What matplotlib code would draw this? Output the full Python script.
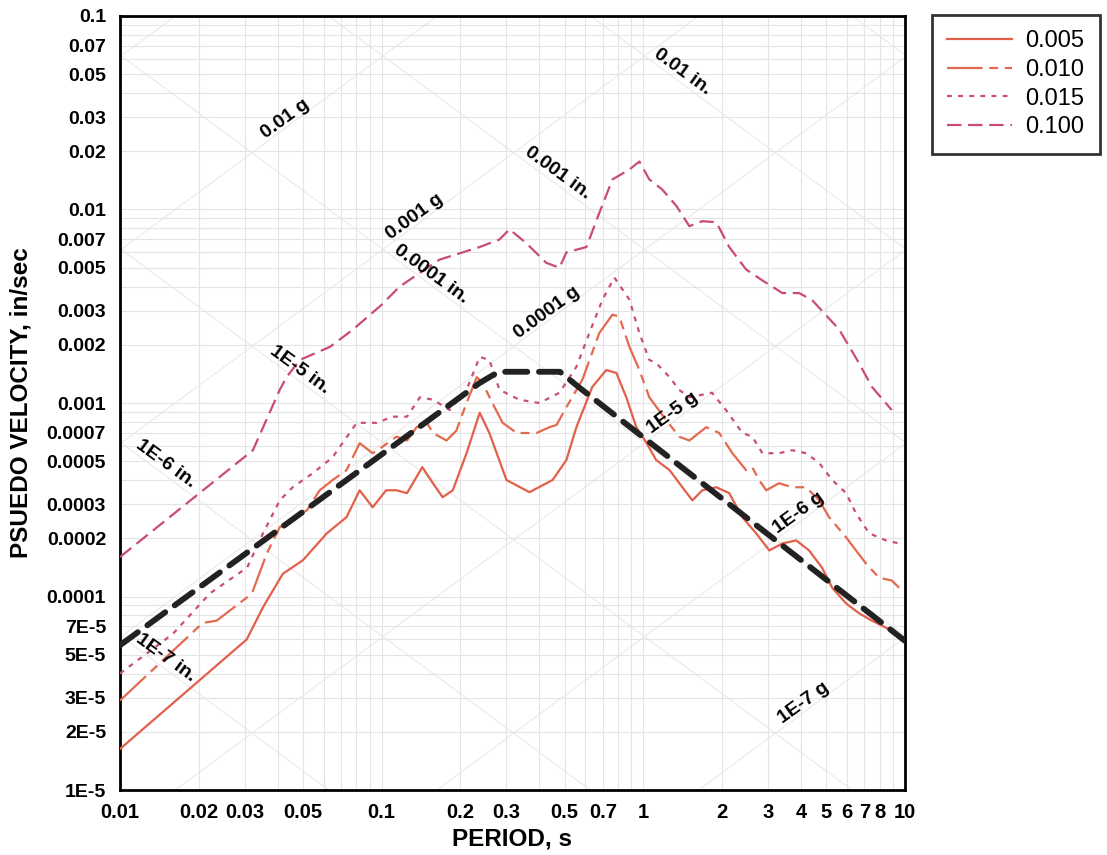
import numpy as np
import matplotlib
matplotlib.use("Agg")
import matplotlib.pyplot as plt
from matplotlib.ticker import FixedLocator, NullFormatter

# ── Data ──────────────────────────────────────────────────────────────────────

G_IN = 386.1  # in/s^2

# reference (design) spectrum, black heavy dashes
ref_T = [0.01, 0.237, 0.28, 0.48, 0.57, 10]
ref_V = [5.6e-5, 1.27e-3, 1.45e-3, 1.45e-3, 1.2e-3, 5.9e-5]

# damping 0.005
d005_T = [0.01, 0.0305, 0.0352, 0.0419, 0.05, 0.0617, 0.0734, 0.0824, 0.0924, 0.104,
          0.114, 0.125, 0.143, 0.157, 0.171, 0.187, 0.211, 0.237, 0.258, 0.30,
          0.367, 0.45, 0.508, 0.555, 0.638, 0.722, 0.789, 0.861, 0.94, 1.03,
          1.12, 1.26, 1.41, 1.54, 1.68, 1.9, 2.13, 2.39, 2.7, 3.03,
          3.4, 3.84, 4.3, 4.82, 5.27, 5.96, 6.67, 7.48, 8.46, 9.2, 10]
d005_V = [1.63e-5, 6.0e-5, 8.8e-5, 1.31e-4, 1.54e-4, 2.12e-4, 2.57e-4, 3.54e-4, 2.89e-4, 3.54e-4,
          3.54e-4, 3.42e-4, 4.66e-4, 3.85e-4, 3.26e-4, 3.54e-4, 5.5e-4, 8.9e-4, 7.0e-4, 4.0e-4,
          3.46e-4, 4.0e-4, 5.07e-4, 7.5e-4, 1.21e-3, 1.48e-3, 1.43e-3, 1.07e-3, 7.5e-4, 6.2e-4,
          5.07e-4, 4.5e-4, 3.67e-4, 3.14e-4, 3.54e-4, 3.67e-4, 3.42e-4, 2.57e-4, 2.12e-4, 1.73e-4,
          1.88e-4, 1.95e-4, 1.73e-4, 1.41e-4, 1.11e-4, 9.2e-5, 8.2e-5, 7.5e-5, 6.9e-5, 6.4e-5, 6.1e-5]

# damping 0.010
d010_T = [0.01, 0.0207, 0.0234, 0.0306, 0.0322, 0.0364, 0.0408, 0.0446, 0.0518, 0.058,
          0.065, 0.0734, 0.0824, 0.0924, 0.1, 0.114, 0.125, 0.136, 0.149, 0.157,
          0.177, 0.193, 0.211, 0.231, 0.243, 0.265, 0.29, 0.328, 0.391, 0.438,
          0.466, 0.508, 0.585, 0.679, 0.762, 0.809, 0.885, 0.966, 1.054, 1.22,
          1.37, 1.5, 1.74, 1.95, 2.19, 2.47, 2.61, 2.77, 2.95, 3.3,
          3.7, 4.19, 4.7, 5.13, 5.96, 6.5, 7.1, 7.96, 8.9, 9.5]
d010_V = [2.9e-5, 7.3e-5, 7.5e-5, 9.9e-5, 1.07e-4, 1.67e-4, 2.28e-4, 2.48e-4, 2.79e-4, 3.54e-4,
          4.0e-4, 4.5e-4, 6.2e-4, 5.5e-4, 5.9e-4, 6.7e-4, 6.4e-4, 7.5e-4, 7.9e-4, 7.0e-4,
          6.4e-4, 7.2e-4, 1.0e-3, 1.36e-3, 1.27e-3, 1.0e-3, 7.9e-4, 7.0e-4, 7.0e-4, 7.5e-4,
          7.7e-4, 9.5e-4, 1.32e-3, 2.3e-3, 2.86e-3, 2.8e-3, 1.95e-3, 1.48e-3, 1.07e-3, 8.2e-4,
          6.7e-4, 6.4e-4, 7.5e-4, 7.0e-4, 5.5e-4, 4.5e-4, 4.65e-4, 4.0e-4, 3.54e-4, 3.85e-4,
          3.67e-4, 3.67e-4, 3.14e-4, 2.57e-4, 2.02e-4, 1.73e-4, 1.48e-4, 1.25e-4, 1.21e-4, 1.11e-4]

# damping 0.015
d015_T = [0.01, 0.0159, 0.0221, 0.0306, 0.0352, 0.0408, 0.0457, 0.0546, 0.065, 0.0803,
          0.0958, 0.110, 0.125, 0.14, 0.157, 0.182, 0.211, 0.237, 0.258, 0.282,
          0.336, 0.401, 0.478, 0.555, 0.622, 0.698, 0.775, 0.885, 0.966, 1.054,
          1.12, 1.26, 1.37, 1.5, 1.83, 2.07, 2.39, 2.61, 2.85, 3.3,
          3.7, 4.19, 4.7, 5.27, 5.96, 6.5, 7.3, 8.46, 9.5]
d015_V = [4.0e-5, 6.4e-5, 1.04e-4, 1.41e-4, 2.12e-4, 3.14e-4, 3.67e-4, 4.34e-4, 5.25e-4, 7.9e-4,
          7.9e-4, 8.5e-4, 8.5e-4, 1.07e-3, 1.04e-3, 9.2e-4, 1.17e-3, 1.73e-3, 1.67e-3, 1.17e-3,
          1.04e-3, 1.0e-3, 1.13e-3, 1.54e-3, 2.3e-3, 3.42e-3, 4.45e-3, 3.42e-3, 2.3e-3, 1.67e-3,
          1.61e-3, 1.36e-3, 1.17e-3, 1.07e-3, 1.13e-3, 9.2e-4, 7.0e-4, 6.7e-4, 5.5e-4, 5.5e-4,
          5.7e-4, 5.5e-4, 4.9e-4, 4.0e-4, 3.42e-4, 2.69e-4, 2.12e-4, 1.95e-4, 1.88e-4]

# damping 0.100
d100_T = [0.01, 0.0322, 0.0408, 0.0433, 0.0487, 0.0634, 0.0775, 0.1, 0.117, 0.166,
          0.237, 0.282, 0.308, 0.357, 0.426, 0.478, 0.508, 0.606, 0.679, 0.762,
          0.885, 0.966, 1.054, 1.18, 1.34, 1.5, 1.68, 1.9, 2.13, 2.47,
          2.85, 3.4, 3.94, 4.42, 5.6, 6.67, 7.48, 8.9]
d100_V = [1.6e-4, 5.7e-4, 1.17e-3, 1.36e-3, 1.67e-3, 1.95e-3, 2.39e-3, 3.22e-3, 3.99e-3, 5.5e-3,
          6.4e-3, 7.0e-3, 7.9e-3, 6.7e-3, 5.3e-3, 5.0e-3, 6.0e-3, 6.4e-3, 9.6e-3, 1.43e-2,
          1.61e-2, 1.77e-2, 1.43e-2, 1.27e-2, 1.04e-2, 8.2e-3, 8.7e-3, 8.6e-3, 6.4e-3, 4.9e-3,
          4.3e-3, 3.7e-3, 3.7e-3, 3.4e-3, 2.4e-3, 1.61e-3, 1.21e-3, 9.2e-4]

accel_labels = ["0.01 g", "0.001 g", "0.0001 g", "1E-5 g", "1E-6 g", "1E-7 g"]
accel_g = [1e-2, 1e-3, 1e-4, 1e-5, 1e-6, 1e-7]
accel_T = [0.0427, 0.134, 0.427, 1.29, 3.94, 4.11]

disp_labels = ["0.01 in.", "0.001 in.", "0.0001 in.", "1E-5 in.", "1E-6 in.", "1E-7 in."]
disp_in = [1e-2, 1e-3, 1e-4, 1e-5, 1e-6, 1e-7]
disp_T = [1.41, 0.47, 0.155, 0.0487, 0.0149, 0.0149]

x_ticks = [0.01, 0.02, 0.03, 0.05, 0.1, 0.2, 0.3, 0.5, 0.7, 1, 2, 3, 4, 5, 6, 7, 8, 10]
x_ticklabels = ["0.01", "0.02", "0.03", "0.05", "0.1", "0.2", "0.3", "0.5", "0.7", "1",
                "2", "3", "4", "5", "6", "7", "8", "10"]
y_ticks = [1e-5, 2e-5, 3e-5, 5e-5, 7e-5, 1e-4, 2e-4, 3e-4, 5e-4, 7e-4,
           1e-3, 2e-3, 3e-3, 5e-3, 7e-3, 1e-2, 2e-2, 3e-2, 5e-2, 7e-2, 0.1]
y_ticklabels = ["1E-5", "2E-5", "3E-5", "5E-5", "7E-5", "0.0001", "0.0002", "0.0003",
                "0.0005", "0.0007", "0.001", "0.002", "0.003", "0.005", "0.007",
                "0.01", "0.02", "0.03", "0.05", "0.07", "0.1"]

# ── Style ─────────────────────────────────────────────────────────────────────

C_005 = "#e2604a"
C_010 = "#e4694f"
C_015 = "#cc4f72"
C_100 = "#c94a7c"
GRID = "#e4e4e4"
DIAG = "#ececec"

plt.rcParams["font.family"] = ["Liberation Sans", "DejaVu Sans"]

fig = plt.figure(figsize=(11.07, 8.55), dpi=100)
ax = fig.add_axes([0.1084, 0.076, 0.7091, 0.9053])
ax.set_xscale("log")
ax.set_yscale("log")
ax.set_xlim(0.01, 10)
ax.set_ylim(1e-5, 0.1)

# background grid: verticals, horizontals and tripartite diagonals
minor = [m * 10.0 ** k for k in range(-6, 2) for m in range(1, 10)]
ax.xaxis.set_minor_locator(FixedLocator(minor))
ax.yaxis.set_minor_locator(FixedLocator(minor))
ax.xaxis.set_minor_formatter(NullFormatter())
ax.yaxis.set_minor_formatter(NullFormatter())
ax.grid(True, which="both", color=GRID, lw=0.8, zorder=0)

Tg = np.array([0.005, 20])
for k in range(-10, 2):
    ax.plot(Tg, 10.0 ** k * G_IN * Tg / (2 * np.pi), color=DIAG, lw=0.9, zorder=0)
    ax.plot(Tg, 2 * np.pi * 10.0 ** k / Tg, color=DIAG, lw=0.9, zorder=0)

# spectra
ax.plot(d005_T, d005_V, color=C_005, lw=1.6, label="0.005", zorder=3)
ax.plot(d010_T, d010_V, color=C_010, lw=1.6, ls=(0, (16, 3, 4, 3)), label="0.010", zorder=3)
ax.plot(d015_T, d015_V, color=C_015, lw=1.6, ls=(0, (2.2, 2.8)), label="0.015", zorder=3)
ax.plot(d100_T, d100_V, color=C_100, lw=1.6, ls=(0, (6.5, 3)), label="0.100", zorder=3)
ax.plot(ref_T, ref_V, color="#222222", lw=4.2, ls=(0, (3.8, 2.0)),
        dash_capstyle="round", zorder=4)

# diagonal annotations
for lab, a, t in zip(accel_labels, accel_g, accel_T):
    v = a * G_IN * t / (2 * np.pi) * 1.12
    ax.text(t, v, lab, rotation=36, ha="center", va="center",
            fontsize=14, fontweight="bold", zorder=5)
for lab, d, t in zip(disp_labels, disp_in, disp_T):
    v = 2 * np.pi * d / t * 1.15
    ax.text(t, v, lab, rotation=-36, ha="center", va="center",
            fontsize=14, fontweight="bold", zorder=5)

ax.set_xticks(x_ticks)
ax.set_xticklabels(x_ticklabels, fontsize=14.5, fontweight="bold",
                   family=["Liberation Sans Narrow", "Liberation Sans"])
ax.set_yticks(y_ticks)
ax.set_yticklabels(y_ticklabels, fontsize=14, fontweight="bold")
ax.tick_params(axis="x", which="both", length=0, pad=9)
ax.tick_params(axis="y", which="both", length=0, pad=10)
for s in ax.spines.values():
    s.set_linewidth(2)

ax.set_xlabel("PERIOD, s", fontsize=17.5, fontweight="bold", labelpad=4)
ax.set_ylabel("PSUEDO VELOCITY, in/sec", fontsize=17.5, fontweight="bold", labelpad=10)

leg = ax.legend(loc="upper left", bbox_to_anchor=(932 / 1107, 1 - 15 / 855),
                bbox_transform=fig.transFigure, borderaxespad=0,
                fontsize=17, frameon=True, fancybox=False, edgecolor="black",
                handlelength=2.75, borderpad=0.65, labelspacing=0.28,
                handletextpad=0.55)
leg.get_frame().set_linewidth(2)

fig.savefig("out.png", dpi=100)
